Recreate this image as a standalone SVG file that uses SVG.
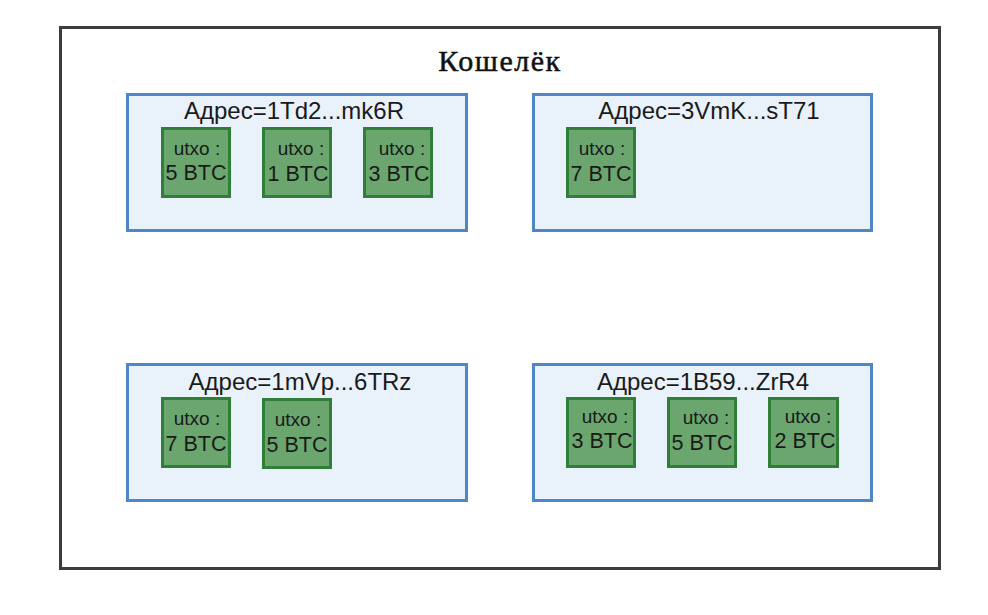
<svg xmlns="http://www.w3.org/2000/svg" width="988" height="615" viewBox="0 0 988 615">
<style>
.frame{fill:#ffffff;stroke:#3c3c3c;stroke-width:3}
.addr{fill:#e9f1fa;stroke:#4f86c6;stroke-width:3}
.utxo{fill:#6aa66e;stroke:#2f7f38;stroke-width:3}
.title{font-family:"Liberation Serif","DejaVu Serif",serif;font-size:30px;fill:#111;stroke:#111;stroke-width:0.5}
.at{font-family:"Liberation Sans",Arial,sans-serif;font-size:24px;fill:#1a1a1a;text-anchor:middle}
.ut{font-family:"Liberation Sans",Arial,sans-serif;font-size:19px;fill:#1a1a1a;text-anchor:middle}
.bt{font-family:"Liberation Sans",Arial,sans-serif;font-size:21.5px;fill:#1a1a1a;text-anchor:middle}
</style>
<rect x="0" y="0" width="988" height="615" fill="#ffffff"/>
<g id="wallet">
<rect class="frame" x="60.5" y="27.5" width="879" height="541"/>
<text class="title" x="500" y="71" text-anchor="middle" letter-spacing="1.5">Кошелёк</text>
</g>
<g id="addr1">
<rect class="addr" x="127.5" y="94.5" width="339" height="136"/>
<text class="at" x="294" y="119">Адрес=1Td2...mk6R</text>
<g id="u1a"><rect class="utxo" x="162.5" y="128.5" width="67" height="68"/><text class="ut" x="197" y="155">utxo :</text><text class="bt" x="196" y="180">5 BTC</text></g>
<g id="u1b"><rect class="utxo" x="263.5" y="128.5" width="67" height="68"/><text class="ut" x="301" y="155">utxo :</text><text class="bt" x="298" y="181">1 BTC</text></g>
<g id="u1c"><rect class="utxo" x="364.5" y="128.5" width="67" height="68"/><text class="ut" x="402" y="155">utxo :</text><text class="bt" x="399" y="181">3 BTC</text></g>
</g>
<g id="addr2">
<rect class="addr" x="533.5" y="94.5" width="338" height="136"/>
<text class="at" x="709" y="119">Адрес=3VmK...sT71</text>
<g id="u2a"><rect class="utxo" x="567.5" y="128.5" width="67" height="68"/><text class="ut" x="602" y="155">utxo :</text><text class="bt" x="601" y="181">7 BTC</text></g>
</g>
<g id="addr3">
<rect class="addr" x="127.5" y="364.5" width="339" height="136"/>
<text class="at" x="300" y="390">Адрес=1mVp...6TRz</text>
<g id="u3a"><rect class="utxo" x="162.5" y="398.5" width="67" height="68"/><text class="ut" x="197" y="425">utxo :</text><text class="bt" x="196" y="451">7 BTC</text></g>
<g id="u3b"><rect class="utxo" x="263.5" y="399.5" width="67" height="68"/><text class="ut" x="298" y="426">utxo :</text><text class="bt" x="297" y="452">5 BTC</text></g>
</g>
<g id="addr4">
<rect class="addr" x="533.5" y="364.5" width="338" height="136"/>
<text class="at" x="703" y="390">Адрес=1B59...ZrR4</text>
<g id="u4a"><rect class="utxo" x="567.5" y="398.5" width="67" height="68"/><text class="ut" x="605" y="423">utxo :</text><text class="bt" x="602" y="448">3 BTC</text></g>
<g id="u4b"><rect class="utxo" x="668.5" y="398.5" width="67" height="68"/><text class="ut" x="706" y="424">utxo :</text><text class="bt" x="702" y="450">5 BTC</text></g>
<g id="u4c"><rect class="utxo" x="769.5" y="398.5" width="68" height="68"/><text class="ut" x="808" y="423">utxo :</text><text class="bt" x="805" y="448">2 BTC</text></g>
</g>
<g id="connectors"></g>
</svg>
